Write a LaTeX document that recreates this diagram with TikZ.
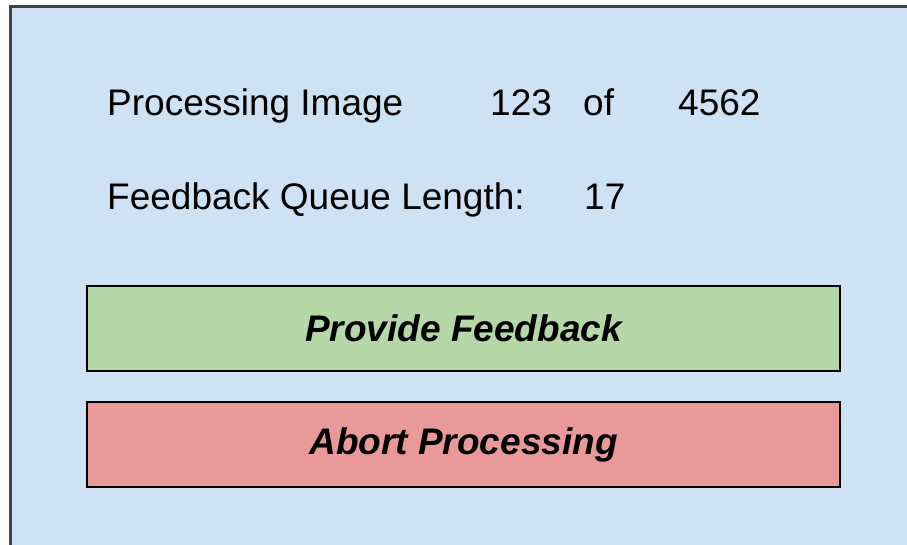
\documentclass[tikz,border=0pt]{standalone}
\usepackage{fontspec}
\setmainfont{Liberation Sans}
\definecolor{panelblue}{HTML}{CFE2F3}
\definecolor{panelframe}{HTML}{434343}
\definecolor{btngreen}{HTML}{B6D7A8}
\definecolor{btnred}{HTML}{EA9999}
\tikzset{
  infotext/.style={anchor=base west, inner sep=0pt, font=\fontsize{37}{41}\selectfont, text=black},
  button/.style={draw=black, line width=2pt, minimum width=753pt, minimum height=85pt,
    inner sep=0pt, font=\fontsize{37}{41}\selectfont\bfseries\itshape, text=black},
}
\begin{document}
\begin{tikzpicture}[x=1pt, y=-1pt]
  \clip (0,0) rectangle (907,544);
  \fill[white] (0,0) rectangle (907,544);
  % panel background
  \draw[panelframe, line width=3pt, fill=panelblue] (10,6) rectangle (930,570);
  % status lines
  \node[infotext] (proclabel) at (107,115) {Processing Image};
  \node[infotext] (current) at (490,115) {123};
  \node[infotext] (oflabel) at (583,115) {of};
  \node[infotext] (total) at (678,115) {4562};
  \node[infotext] (queuelabel) at (107,209) {Feedback Queue Length:};
  \node[infotext] (queuelen) at (584,209) {17};
  % buttons
  \node[button, fill=btngreen] (feedback) at (463.5,328.5) {Provide Feedback};
  \node[button, fill=btnred] (abort) at (463.5,444.5) {Abort Processing};
\end{tikzpicture}
\end{document}
